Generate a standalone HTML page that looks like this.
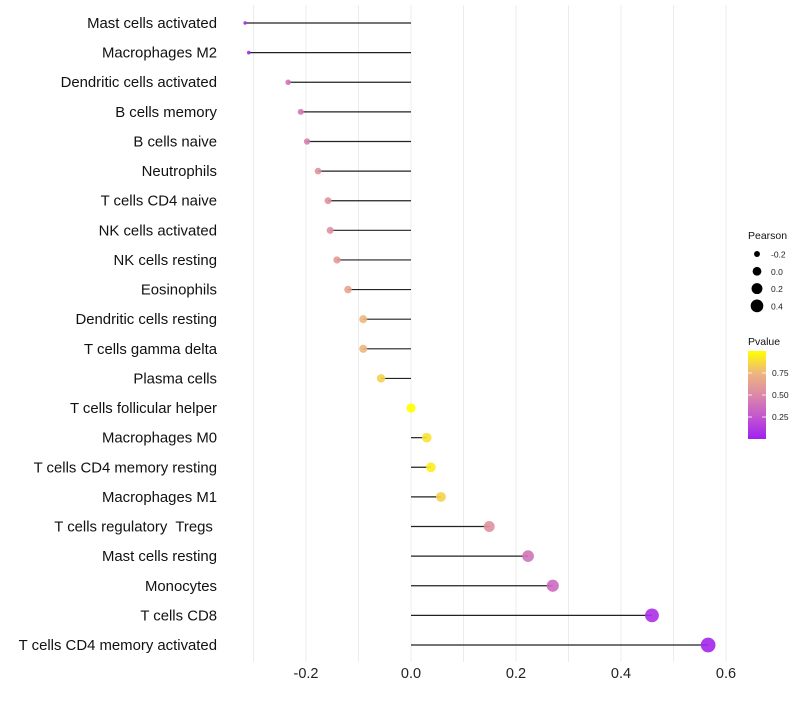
<!DOCTYPE html>
<html><head><meta charset="utf-8"><style>
body{margin:0;background:#fff;font-family:"Liberation Sans",sans-serif}
svg text{font-family:"Liberation Sans",sans-serif;white-space:pre}
</style></head><body>
<svg id="c" width="800" height="700">
<defs><linearGradient id="pg" x1="0" y1="1" x2="0" y2="0">
<stop offset="0" stop-color="#A020F0"/><stop offset="0.25" stop-color="#C256D0"/><stop offset="0.5" stop-color="#DC88A8"/><stop offset="0.75" stop-color="#EEB67E"/><stop offset="1" stop-color="#FFFF00"/></linearGradient></defs>
</svg>
<script>
const categories=["Mast cells activated","Macrophages M2","Dendritic cells activated","B cells memory","B cells naive","Neutrophils","T cells CD4 naive","NK cells activated","NK cells resting","Eosinophils","Dendritic cells resting","T cells gamma delta","Plasma cells","T cells follicular helper","Macrophages M0","T cells CD4 memory resting","Macrophages M1","T cells regulatory  Tregs ","Mast cells resting","Monocytes","T cells CD8","T cells CD4 memory activated"];
const pearson=[-0.316,-0.309,-0.234,-0.21,-0.198,-0.177,-0.158,-0.154,-0.141,-0.12,-0.091,-0.091,-0.057,0,0.03,0.038,0.057,0.149,0.223,0.27,0.459,0.566];
const pvalue=[0.05,0.05,0.4,0.42,0.45,0.55,0.55,0.55,0.6,0.65,0.75,0.75,0.85,1.0,0.9,0.95,0.85,0.55,0.4,0.35,0.08,0.03];
const xTicks=[-0.2,0,0.2,0.4,0.6];
const xTickLabels=["-0.2","0.0","0.2","0.4","0.6"];
const sizeLegend=[-0.2,0,0.2,0.4];
const colorTicks=[0.25,0.5,0.75];
const NS="http://www.w3.org/2000/svg";
const svg=document.getElementById('c');
function mk(t,a,p){const e=document.createElementNS(NS,t);for(const k in a)e.setAttribute(k,a[k]);(p||svg).appendChild(e);return e;}
const x=v=>411+525*v;
const y=i=>23+i*(622/21);
const pmin=Math.min(...pearson);
const r=v=>Math.sqrt(3+58*Math.max(0,v-pmin));
const stops=[[0,[160,32,240]],[0.25,[194,86,208]],[0.5,[220,136,168]],[0.75,[238,182,126]],[1,[255,255,0]]];
function col(p){for(let i=1;i<stops.length;i++){if(p<=stops[i][0]){const a=stops[i-1],b=stops[i],t=(p-a[0])/(b[0]-a[0]);return 'rgb('+a[1].map((c,k)=>Math.round(c+(b[1][k]-c)*t)).join(',')+')';}}return 'rgb(255,255,0)';}
for(let g=-0.3;g<=0.61;g+=0.1){const l=mk('line',{x1:x(g),x2:x(g),y1:5,y2:662,stroke:'#ececec','stroke-width':1});

}
xTicks.forEach((v,i)=>{const t=mk('text',{x:x(v),y:678,'text-anchor':'middle','font-size':14.5,fill:'#222'});t.textContent=xTickLabels[i];

});
categories.forEach((c,i)=>{
const t=mk('text',{x:217,y:y(i)+5,'text-anchor':'end','font-size':14.9,fill:'#111'});t.textContent=c;


const l=mk('line',{x1:x(0),x2:x(pearson[i]),y1:y(i),y2:y(i),stroke:'#222','stroke-width':1.2});


const d=mk('circle',{cx:x(pearson[i]),cy:y(i),r:r(pearson[i]),fill:col(pvalue[i]),'fill-opacity':0.9});


});
const t1=mk('text',{x:748,y:239,'font-size':10.5,fill:'#111'});t1.textContent='Pearson';


sizeLegend.forEach((v,i)=>{const cy=254+i*17.3;
const c=mk('circle',{cx:757,cy:cy,r:r(v)*0.95,fill:'#000'});


const t=mk('text',{x:771,y:cy+3.5,'font-size':8.5,fill:'#222'});t.textContent=v===0?'0.0':v.toFixed(1);

});
const t2=mk('text',{x:748,y:345,'font-size':10.5,fill:'#111'});t2.textContent='Pvalue';


const bar=mk('rect',{x:748,y:351,width:18,height:88,fill:'url(#pg)'});


colorTicks.forEach(v=>{const cy=439-88*v;
mk('line',{x1:748,x2:752,y1:cy,y2:cy,stroke:'#fff','stroke-width':0.8});
mk('line',{x1:762,x2:766,y1:cy,y2:cy,stroke:'#fff','stroke-width':0.8});
const t=mk('text',{x:772,y:cy+3,'font-size':8.5,fill:'#222'});t.textContent=v.toFixed(2);

});
</script>
</body></html>
